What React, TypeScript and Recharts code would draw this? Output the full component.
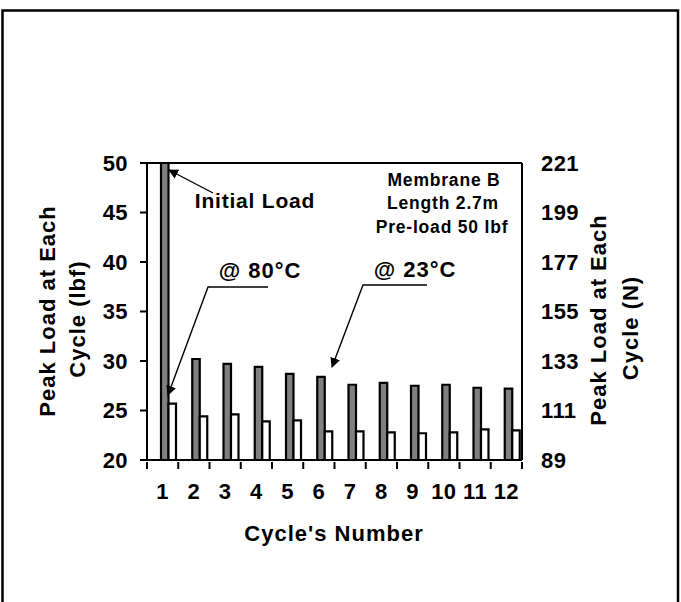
import { BarChart, Bar, XAxis, YAxis, CartesianGrid, ReferenceLine, Rectangle } from 'recharts'

// ── Data ─────────────────────────────────────────────────────────
const cycles = ['1', '2', '3', '4', '5', '6', '7', '8', '9', '10', '11', '12']
const load23C = [50, 30.2, 29.7, 29.4, 28.7, 28.4, 27.6, 27.8, 27.5, 27.6, 27.3, 27.2] // lbf, dark bars
const load80C = [25.7, 24.4, 24.6, 23.9, 24.0, 22.9, 22.9, 22.8, 22.7, 22.8, 23.1, 23.0] // lbf, white bars
const lbfTicks = [20, 25, 30, 35, 40, 45, 50]
const newtonTicks = [89, 111, 133, 155, 177, 199, 221]

const data = cycles.map((c, i) => ({ cycle: c, hot: load80C[i], room: load23C[i] }))

const FONT = '"Liberation Sans", Arial, sans-serif'
const BAR_SHIFT = 6 // Excel draws the pair a little right of the category centre
const PLOT_LEFT = 147
const PLOT_RIGHT = 522
const BAND = (PLOT_RIGHT - PLOT_LEFT) / cycles.length

const tickStyle = { fill: '#000', fontSize: 22, fontWeight: 700, fontFamily: FONT, letterSpacing: 0.4 }

const shifted = (props: any) => <Rectangle {...props} x={props.x + BAR_SHIFT} />

// category tick: label at the centre, tick mark at the category boundary (Excel style)
const CycleTick = ({ x, y, payload, index }: any) => (
  <g>
    <line x1={x - BAND / 2} x2={x - BAND / 2} y1={y} y2={y + 7} stroke="#000" strokeWidth={2} />
    {index === cycles.length - 1 && (
      <line x1={x + BAND / 2} x2={x + BAND / 2} y1={y} y2={y + 7} stroke="#000" strokeWidth={2} />
    )}
    <text x={x} y={y + 37} textAnchor="middle" {...tickStyle}>{payload.value}</text>
  </g>
)

export default function App() {
  return (
    <div style={{ position: 'fixed', left: 0, top: 0, width: 681, height: 602, overflow: 'hidden', background: '#fff', fontFamily: FONT }}>
      <BarChart
        width={681}
        height={602}
        data={data}
        barSize={7.5}
        barGap={0}
        margin={{ top: 163, right: 681 - PLOT_RIGHT - 60, bottom: 112, left: PLOT_LEFT - 60 }}
        style={{ position: 'absolute', left: 0, top: 0 }}
      >
        <CartesianGrid vertical={false} stroke="#808080" strokeWidth={1} />
        <XAxis
          dataKey="cycle"
          height={30}
          axisLine={{ stroke: '#000', strokeWidth: 2 }}
          tickLine={false}
          tickSize={0}
          interval={0}
          tick={<CycleTick />}
        />
        <YAxis
          yAxisId="lbf"
          domain={[20, 50]}
          ticks={lbfTicks}
          allowDataOverflow
          width={60}
          tickSize={7}
          tickMargin={12}
          tick={tickStyle}
          tickLine={{ stroke: '#000', strokeWidth: 2 }}
          axisLine={{ stroke: '#000', strokeWidth: 2 }}
        />
        <YAxis
          yAxisId="N"
          orientation="right"
          domain={[89, 221]}
          ticks={newtonTicks}
          allowDataOverflow
          width={60}
          tickSize={0}
          tickMargin={19}
          tickLine={false}
          tick={tickStyle}
          axisLine={{ stroke: '#000', strokeWidth: 2 }}
        />
        <ReferenceLine yAxisId="lbf" y={50} stroke="#000" strokeWidth={2} />
        <Bar yAxisId="lbf" dataKey="room" fill="#808080" stroke="#000" strokeWidth={2.2} shape={shifted} isAnimationActive={false} />
        <Bar yAxisId="lbf" dataKey="hot" fill="#fff" stroke="#000" strokeWidth={2.2} shape={shifted} isAnimationActive={false} />
      </BarChart>

      {/* frame, titles and callouts */}
      <svg width={681} height={602} style={{ position: 'absolute', left: 0, top: 0, pointerEvents: 'none' }}>
        <defs>
          <marker id="head" viewBox="0 0 10 10" refX="9" refY="5" markerWidth="10" markerHeight="10" orient="auto-start-reverse" markerUnits="userSpaceOnUse">
            <path d="M0,0 L10,5 L0,10 z" fill="#000" />
          </marker>
        </defs>
        <rect x={2.5} y={10.5} width={675.5} height={600} fill="none" stroke="#000" strokeWidth={2.5} />
        <g fontFamily={FONT} fontWeight={700} fill="#000">
          <text x={47} y={311} fontSize={22} letterSpacing={1} textAnchor="middle" dominantBaseline="central" transform="rotate(-90 47 311)">Peak Load at Each</text>
          <text x={77} y={319} fontSize={22} letterSpacing={1} textAnchor="middle" dominantBaseline="central" transform="rotate(-90 77 319)">Cycle (lbf)</text>
          <text x={598} y={320} fontSize={22} letterSpacing={1} textAnchor="middle" dominantBaseline="central" transform="rotate(-90 598 320)">Peak Load at Each</text>
          <text x={630} y={328} fontSize={22} letterSpacing={1} textAnchor="middle" dominantBaseline="central" transform="rotate(-90 630 328)">Cycle (N)</text>
          <text x={334} y={541} fontSize={22} letterSpacing={1} textAnchor="middle">Cycle's Number</text>

          <text x={255} y={208} fontSize={21} letterSpacing={0.8} textAnchor="middle">Initial Load</text>
          <text x={260} y={278} fontSize={22} letterSpacing={1} textAnchor="middle">@ 80°C</text>
          <text x={415} y={277} fontSize={22} letterSpacing={1} textAnchor="middle">@ 23°C</text>

          <text x={444} y={186} fontSize={17.5} letterSpacing={0.8} textAnchor="middle">Membrane B</text>
          <text x={443} y={209} fontSize={17.5} letterSpacing={0.8} textAnchor="middle">Length 2.7m</text>
          <text x={442} y={233} fontSize={17.5} letterSpacing={0.8} textAnchor="middle">Pre-load 50 lbf</text>
        </g>
        <g stroke="#000" strokeWidth={1.4} fill="none">
          <line x1={213} y1={193} x2={169} y2={170} markerEnd="url(#head)" />
          <polyline points="268,287 208,287 168,395" markerEnd="url(#head)" />
          <polyline points="427,285 363,285 332,367" markerEnd="url(#head)" />
        </g>
      </svg>
    </div>
  )
}
